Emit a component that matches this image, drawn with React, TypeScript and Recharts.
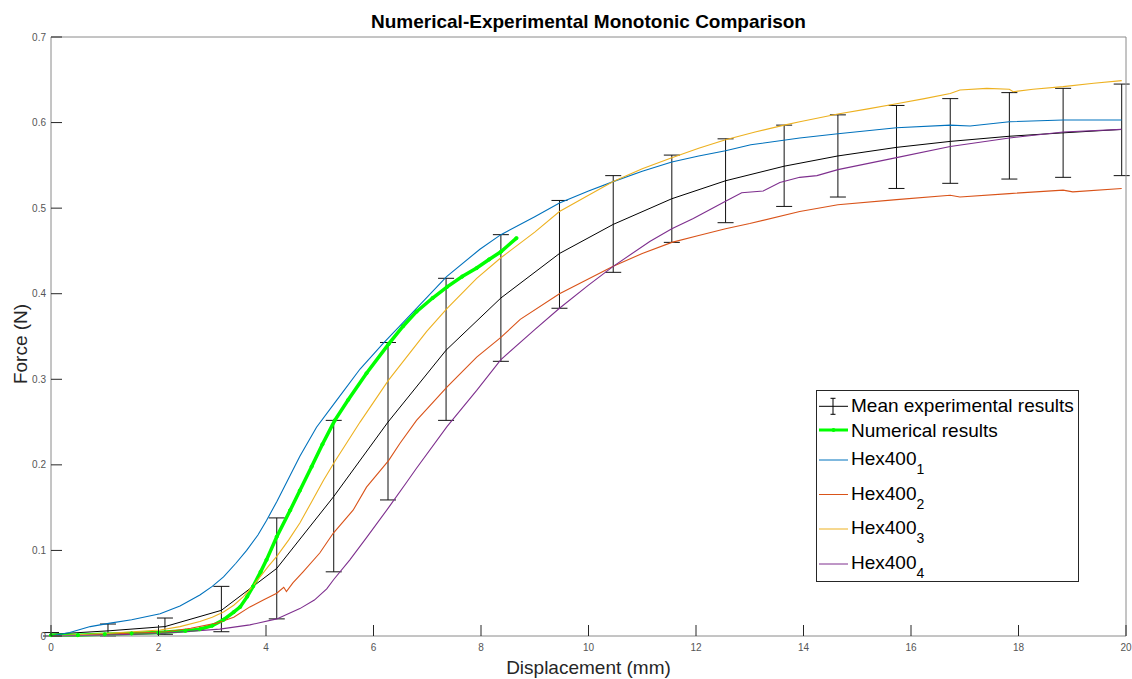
import React from 'react';
import { LineChart, Line, XAxis, YAxis, ErrorBar } from 'recharts';

if (typeof document !== 'undefined') {
  document.body.style.margin = '0';
}

const FONT = "'Liberation Sans', Arial, Helvetica, sans-serif";

const xTicks = [0, 2, 4, 6, 8, 10, 12, 14, 16, 18, 20];
const yTicks = [0, 0.1, 0.2, 0.3, 0.4, 0.5, 0.6, 0.7];

const chartTitle = 'Numerical-Experimental Monotonic Comparison';
const xLabel = 'Displacement (mm)';
const yLabel = 'Force (N)';

// Mean experimental results with error bars
const meanX = [0, 1.06, 2.12, 3.17, 4.2, 5.26, 6.27, 7.35, 8.37, 9.46, 10.46, 11.55, 12.55, 13.64, 14.64, 15.73, 16.73, 17.83, 18.83, 19.92];
const meanY = [0.002, 0.006, 0.011, 0.03, 0.079, 0.163, 0.25, 0.334, 0.395, 0.447, 0.481, 0.511, 0.532, 0.549, 0.561, 0.571, 0.578, 0.584, 0.588, 0.592];
const meanHigh = [0.004, 0.014, 0.021, 0.058, 0.138, 0.252, 0.343, 0.418, 0.469, 0.509, 0.538, 0.562, 0.581, 0.597, 0.609, 0.62, 0.628, 0.635, 0.64, 0.645];
const meanLow = [0, 0, 0.002, 0.005, 0.02, 0.075, 0.159, 0.252, 0.321, 0.383, 0.425, 0.46, 0.483, 0.502, 0.513, 0.523, 0.529, 0.534, 0.536, 0.538];

// Numerical results
const numX = [0, 0.5, 1.0, 1.5, 2.0, 2.5, 2.77, 3.0, 3.21, 3.4, 3.52, 3.65, 3.76, 3.9, 4.01, 4.2, 4.45, 4.63, 4.85, 5.05, 5.28, 5.53, 5.87, 6.28, 6.55, 6.8, 7.1, 7.37, 7.65, 7.92, 8.15, 8.37, 8.66];
const numY = [0.001, 0.001, 0.002, 0.003, 0.004, 0.006, 0.008, 0.012, 0.019, 0.028, 0.034, 0.046, 0.058, 0.075, 0.089, 0.116, 0.147, 0.17, 0.198, 0.224, 0.252, 0.276, 0.307, 0.341, 0.362, 0.379, 0.395, 0.408, 0.42, 0.43, 0.44, 0.449, 0.465];

// Hex400_1
const hex1X = [0, 0.35, 0.73, 1.1, 1.5, 2.03, 2.4, 2.77, 3.0, 3.21, 3.44, 3.64, 3.85, 4.01, 4.2, 4.42, 4.63, 4.94, 5.32, 5.75, 6.18, 6.5, 6.8, 7.36, 7.98, 8.37, 9.0, 9.46, 10.0, 10.46, 11.0, 11.55, 12.05, 12.55, 13.02, 13.93, 14.64, 15.73, 16.73, 17.1, 17.83, 18.83, 19.92];
const hex1Y = [0, 0.004, 0.011, 0.015, 0.019, 0.026, 0.035, 0.048, 0.058, 0.069, 0.085, 0.1, 0.118, 0.135, 0.157, 0.184, 0.21, 0.244, 0.276, 0.312, 0.342, 0.363, 0.383, 0.42, 0.452, 0.469, 0.49, 0.506, 0.52, 0.531, 0.543, 0.554, 0.561, 0.567, 0.574, 0.582, 0.587, 0.594, 0.597, 0.596, 0.601, 0.603, 0.603];

// Hex400_2
const hex2X = [0, 1.0, 2.15, 2.6, 3.08, 3.4, 3.7, 3.95, 4.2, 4.33, 4.38, 4.5, 4.69, 5.0, 5.25, 5.62, 5.87, 6.28, 6.49, 6.8, 7.37, 7.92, 8.37, 8.73, 9.46, 10.46, 11.0, 11.55, 12.05, 12.55, 13.0, 13.93, 14.64, 15.73, 16.73, 16.91, 17.83, 18.83, 19.01, 19.92];
const hex2Y = [0, 0.002, 0.005, 0.009, 0.015, 0.022, 0.034, 0.042, 0.05, 0.057, 0.052, 0.062, 0.075, 0.097, 0.12, 0.147, 0.174, 0.205, 0.225, 0.252, 0.291, 0.326, 0.349, 0.37, 0.4, 0.432, 0.447, 0.46, 0.468, 0.476, 0.482, 0.496, 0.504, 0.51, 0.515, 0.513, 0.517, 0.521, 0.519, 0.523];

// Hex400_3
const hex3X = [0, 1.0, 2.03, 2.4, 2.77, 3.0, 3.21, 3.4, 3.58, 3.75, 3.89, 4.05, 4.2, 4.42, 4.63, 4.85, 5.07, 5.28, 5.75, 6.28, 6.99, 7.37, 7.92, 8.37, 9.0, 9.46, 10.0, 10.46, 11.0, 11.55, 12.05, 12.55, 13.1, 13.64, 13.93, 14.64, 15.2, 15.73, 16.25, 16.73, 16.91, 17.41, 17.83, 17.9, 18.27, 18.83, 19.4, 19.92];
const hex3Y = [0, 0.003, 0.007, 0.011, 0.017, 0.022, 0.028, 0.036, 0.046, 0.058, 0.069, 0.082, 0.093, 0.112, 0.132, 0.157, 0.182, 0.204, 0.25, 0.299, 0.356, 0.383, 0.418, 0.442, 0.472, 0.496, 0.515, 0.531, 0.546, 0.559, 0.57, 0.58, 0.589, 0.597, 0.601, 0.61, 0.616, 0.622, 0.628, 0.634, 0.638, 0.64, 0.639, 0.636, 0.639, 0.642, 0.646, 0.649];

// Hex400_4
const hex4X = [0, 1.0, 2.03, 3.14, 3.7, 4.2, 4.63, 4.9, 5.13, 5.26, 5.56, 5.87, 6.28, 6.62, 6.8, 7.37, 7.92, 8.37, 9.0, 9.46, 10.0, 10.46, 11.14, 11.55, 11.95, 12.55, 12.85, 13.25, 13.56, 13.93, 14.25, 14.64, 15.73, 16.73, 17.83, 18.83, 19.92];
const hex4Y = [0, 0.001, 0.003, 0.008, 0.013, 0.02, 0.032, 0.042, 0.055, 0.066, 0.089, 0.115, 0.15, 0.18, 0.196, 0.245, 0.287, 0.323, 0.358, 0.383, 0.41, 0.432, 0.461, 0.476, 0.488, 0.508, 0.518, 0.52, 0.53, 0.536, 0.538, 0.545, 0.559, 0.572, 0.582, 0.589, 0.592];

const C_MEAN = '#000000';
const C_NUM = '#00ff00';
const C_HEX1 = '#0072BD';
const C_HEX2 = '#D95319';
const C_HEX3 = '#EDB120';
const C_HEX4 = '#7E2F8E';

const legendLabels = ['Mean experimental results', 'Numerical results', 'Hex400', 'Hex400', 'Hex400', 'Hex400'];
const legendSubs = ['', '', '1', '2', '3', '4'];
const legendColors = [C_MEAN, C_NUM, C_HEX1, C_HEX2, C_HEX3, C_HEX4];

const zip = (xs: number[], ys: number[]) => xs.map((x, i) => ({ x, y: ys[i] }));

const meanData = meanX.map((x, i) => ({
  x,
  y: meanY[i],
  err: [meanY[i] - meanLow[i], meanHigh[i] - meanY[i]],
}));
const numData = zip(numX, numY);
const hex1Data = zip(hex1X, hex1Y);
const hex2Data = zip(hex2X, hex2Y);
const hex3Data = zip(hex3X, hex3Y);
const hex4Data = zip(hex4X, hex4Y);

const AX = '#8a8a8a';
const TK = '#262626';
const TL = 11;

const BottomTick = (props: any) => {
  const { x, y, payload } = props;
  return (
    <g>
      <line x1={x} y1={y} x2={x} y2={y - TL} stroke={TK} strokeWidth={1} />
      <text x={x} y={y + 14.5} textAnchor="middle" fontSize={10} fill="#555" fontFamily={FONT}>
        {String(payload.value)}
      </text>
    </g>
  );
};
const TopTick = (props: any) => {
  const { x, y } = props;
  return <line x1={x} y1={y} x2={x} y2={y + TL} stroke={TK} strokeWidth={1} />;
};
const LeftTick = (props: any) => {
  const { x, y, payload } = props;
  return (
    <g>
      <line x1={x} y1={y} x2={x + TL} y2={y} stroke={TK} strokeWidth={1} />
      <text x={x - 5} y={y + 3.6} textAnchor="end" fontSize={10} fill="#555" fontFamily={FONT}>
        {String(payload.value)}
      </text>
    </g>
  );
};
const RightTick = (props: any) => {
  const { x, y } = props;
  return <line x1={x} y1={y} x2={x - TL} y2={y} stroke={TK} strokeWidth={1} />;
};

const W = 1132;
const H = 679;

const rowIcon = [16.3, 40, 70, 104.5, 139, 174];
const rowBase = [22, 47, 75, 109.5, 144, 179];

export default function App() {
  return (
    <div style={{ position: 'relative', width: W, height: H, background: '#fff', overflow: 'hidden' }}>
      <LineChart width={W} height={H} margin={{ top: 0, right: 0, bottom: 0, left: 0 }}>
        <XAxis
          dataKey="x"
          type="number"
          domain={[0, 20]}
          ticks={xTicks}
          interval={0}
          tickSize={0}
          tickMargin={0}
          tickLine={false}
          axisLine={{ stroke: AX }}
          height={43}
          tick={BottomTick}
        />
        <XAxis
          xAxisId="top"
          orientation="top"
          dataKey="x"
          type="number"
          domain={[0, 20]}
          ticks={xTicks}
          interval={0}
          tickSize={0}
          tickMargin={0}
          tickLine={false}
          axisLine={{ stroke: AX }}
          height={37}
          tick={TopTick}
        />
        <YAxis
          type="number"
          domain={[0, 0.7]}
          ticks={yTicks}
          interval={0}
          tickSize={0}
          tickMargin={0}
          tickLine={false}
          axisLine={{ stroke: AX }}
          width={51}
          tick={LeftTick}
        />
        <YAxis
          yAxisId="right"
          orientation="right"
          type="number"
          domain={[0, 0.7]}
          ticks={yTicks}
          interval={0}
          tickSize={0}
          tickMargin={0}
          tickLine={false}
          axisLine={{ stroke: AX }}
          width={6}
          tick={RightTick}
        />
        <Line data={meanData} dataKey="y" type="linear" stroke={C_MEAN} strokeWidth={1} dot={false} isAnimationActive={false}>
          <ErrorBar dataKey="err" direction="y" width={8} stroke="#111" strokeWidth={1} isAnimationActive={false} />
        </Line>
        <Line
          data={numData}
          dataKey="y"
          type="linear"
          stroke={C_NUM}
          strokeWidth={3.5}
          dot={{ r: 1.6, fill: C_NUM, stroke: C_NUM, strokeWidth: 1 }}
          isAnimationActive={false}
        />
        <Line data={hex1Data} dataKey="y" type="linear" stroke={C_HEX1} strokeWidth={1.1} dot={false} isAnimationActive={false} />
        <Line data={hex2Data} dataKey="y" type="linear" stroke={C_HEX2} strokeWidth={1.1} dot={false} isAnimationActive={false} />
        <Line data={hex3Data} dataKey="y" type="linear" stroke={C_HEX3} strokeWidth={1.1} dot={false} isAnimationActive={false} />
        <Line data={hex4Data} dataKey="y" type="linear" stroke={C_HEX4} strokeWidth={1.1} dot={false} isAnimationActive={false} />
      </LineChart>
      <svg width={W} height={H} style={{ position: 'absolute', left: 0, top: 0, pointerEvents: 'none' }}>
        <text x={588.5} y={28} textAnchor="middle" fontSize={19} fontWeight="bold" fill="#000" fontFamily={FONT}>
          {chartTitle}
        </text>
        <text x={588.5} y={674} textAnchor="middle" fontSize={19} fill="#262626" fontFamily={FONT}>
          {xLabel}
        </text>
        <text
          x={27}
          y={344}
          textAnchor="middle"
          fontSize={19}
          fill="#262626"
          fontFamily={FONT}
          transform="rotate(-90 27 344)"
        >
          {yLabel}
        </text>
        <g transform="translate(816,390)">
          <rect x={0.5} y={0.5} width={262} height={191} fill="#fff" stroke="#262626" strokeWidth={1} />
          {legendLabels.map((lab, i) => {
            const iy = rowIcon[i];
            const by = rowBase[i];
            const col = legendColors[i];
            return (
              <g key={i}>
                <line x1={3} y1={iy} x2={32} y2={iy} stroke={col} strokeWidth={i === 1 ? 3 : 1} />
                {i === 0 && (
                  <g stroke={col} strokeWidth={1}>
                    <line x1={17} y1={iy - 8} x2={17} y2={iy + 8} />
                    <line x1={14.5} y1={iy - 8} x2={19.5} y2={iy - 8} />
                    <line x1={14.5} y1={iy + 8} x2={19.5} y2={iy + 8} />
                  </g>
                )}
                {i === 1 && <circle cx={17.5} cy={iy} r={2} fill={col} />}
                <text x={35} y={by} fontSize={19} fill="#000" fontFamily={FONT}>
                  {lab}
                  {legendSubs[i] && (
                    <tspan fontSize={14} dy={9}>
                      {legendSubs[i]}
                    </tspan>
                  )}
                </text>
              </g>
            );
          })}
        </g>
      </svg>
    </div>
  );
}
